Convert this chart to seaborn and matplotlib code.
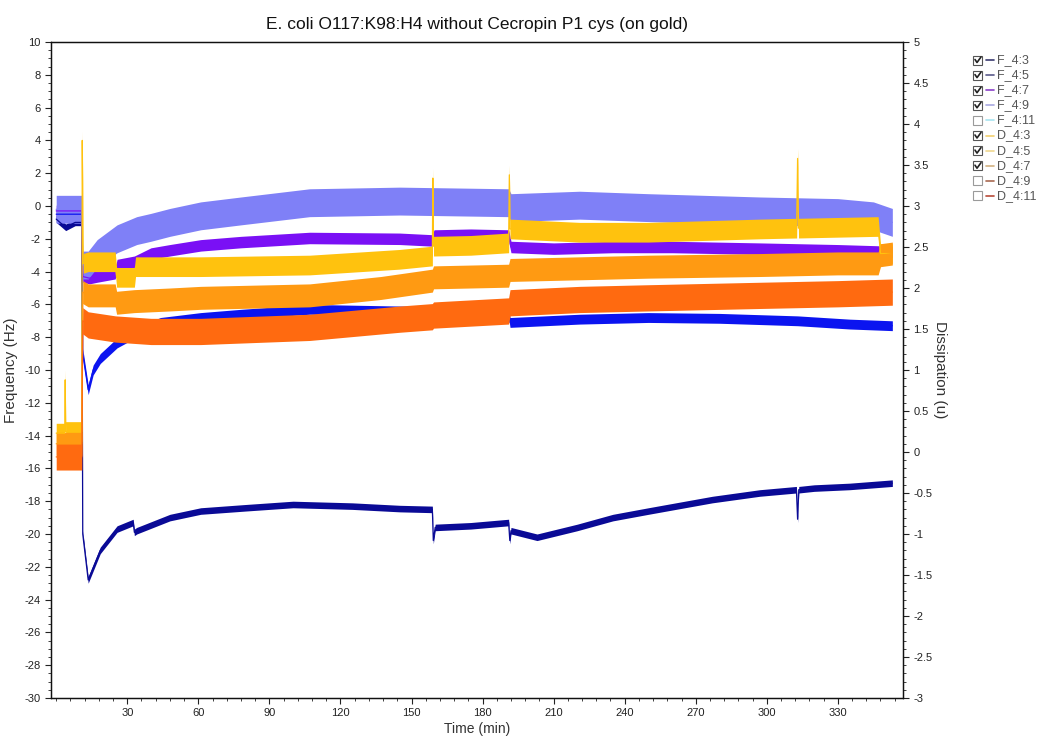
import numpy as np
import pandas as pd
import matplotlib
matplotlib.use("Agg")
import matplotlib.pyplot as plt
from matplotlib.ticker import MultipleLocator, FixedLocator, FuncFormatter
from matplotlib.lines import Line2D
from matplotlib.patches import Rectangle
import seaborn as sns

TITLE = "E. coli O117:K98:H4 without Cecropin P1 cys (on gold)"

# ---- Frequency shift (Hz) per overtone: time (min) / centre value ----
f43_t = [0, 4, 8, 10.8, 11.2, 13.5, 18.6, 25.7, 32.5, 33.0, 34, 48, 61, 80, 100, 125, 145,
         158.8, 159.2, 160, 175, 191, 191.5, 192, 203, 220, 235, 250, 277, 297,
         312.5, 313, 313.5, 320, 335, 353]
f43_v = [-0.8, -1.3, -1.0, -1.0, -20.0, -22.8, -21.0, -19.7, -19.3, -19.9, -19.8, -19.0, -18.6,
         -18.4, -18.2, -18.3, -18.45, -18.5, -20.4, -19.6, -19.5, -19.3, -20.4, -19.8,
         -20.2, -19.6, -19.0, -18.6, -17.9, -17.5, -17.3, -19.1, -17.3, -17.2, -17.1, -16.9]

f45_t = [0, 10.8, 11.2, 13.5, 15.6, 18.6, 25.7, 34, 44, 61, 78, 107, 145, 191, 191.6,
         221, 250, 280, 313, 335, 353]
f45_v = [-0.5, -0.5, -9.0, -11.2, -10.0, -9.3, -8.35, -7.7, -7.1, -6.8, -6.6, -6.3, -6.4,
         -6.5, -7.1, -6.9, -6.8, -6.85, -7.0, -7.2, -7.3]

f47_t = [0, 10.8, 11.2, 14, 17.3, 24.9, 25.7, 33, 40, 48, 61, 78, 107, 145, 158.8, 159.5,
         175, 191, 192, 210, 235, 260, 297, 330, 353]
f47_v = [-0.3, -0.3, -4.3, -4.4, -4.3, -4.1, -3.6, -3.4, -2.9, -2.7, -2.4, -2.2, -1.95,
         -2.0, -2.1, -1.8, -1.75, -1.8, -2.5, -2.6, -2.5, -2.5, -2.6, -2.7, -2.8]

f49_t = [0, 10.8, 11.2, 13.5, 17.3, 25.7, 34, 40, 48, 61, 78, 107, 145, 191, 192, 221,
         250, 297, 330, 345, 353]
f49_v = [-0.2, -0.2, -3.6, -3.6, -2.9, -2.0, -1.5, -1.3, -1.0, -0.6, -0.3, 0.2, 0.3,
         0.2, -0.1, 0.05, -0.1, -0.3, -0.4, -0.6, -1.0]

# ---- Dissipation shift (1e-6) per overtone ----
d43_t = [0, 3.6, 3.8, 4.0, 10.8, 11.0, 11.4, 13.5, 24.9, 25.5, 33, 33.5, 48, 61, 107, 145,
         158.8, 159.0, 159.3, 175, 191, 191.3, 191.6, 221, 250, 297, 312.6, 313, 313.4,
         330, 347, 348, 353]
d43_v = [0.23, 0.23, 0.88, 0.25, 0.25, 3.8, 2.3, 2.32, 2.32, 2.13, 2.13, 2.26, 2.26, 2.26,
         2.28, 2.35, 2.39, 3.34, 2.51, 2.52, 2.55, 3.38, 2.72, 2.68, 2.68, 2.72, 2.73,
         3.58, 2.73, 2.74, 2.75, 2.42, 2.42]

d45_t = [0, 10.8, 11.2, 13.5, 24.9, 25.5, 33, 48, 61, 107, 137, 158.8, 159.3, 191, 191.6,
         221, 250, 297, 330, 347, 348, 353]
d45_v = [0.1, 0.1, 1.95, 1.91, 1.91, 1.82, 1.84, 1.86, 1.88, 1.91, 2.0, 2.09, 2.13, 2.15,
         2.22, 2.24, 2.26, 2.28, 2.3, 2.3, 2.4, 2.42]

d47_t = [0, 10.8, 11.2, 13.5, 25, 40, 61, 107, 145, 158.8, 159.3, 191, 191.6, 221, 250,
         297, 330, 353]
d47_v = [-0.06, -0.06, 1.6, 1.55, 1.50, 1.47, 1.47, 1.52, 1.62, 1.65, 1.67, 1.72, 1.82,
         1.86, 1.88, 1.91, 1.93, 1.95]

# noise half-widths of each trace
f_spread = {"F_4:3": 0.2, "F_4:5": 0.3, "F_4:7": 0.35, "F_4:9": 0.85}
d_spread = {"D_4:3": 0.12, "D_4:5": 0.14, "D_4:7": 0.16}

f_colors = {"F_4:3": "#0a0a96", "F_4:5": "#0b14f0", "F_4:7": "#7a10f5", "F_4:9": "#7f80f7"}
d_colors = {"D_4:3": "#ffc20e", "D_4:5": "#ff9a12", "D_4:7": "#ff6a10"}

legend_names = ["F_4:3", "F_4:5", "F_4:7", "F_4:9", "F_4:11",
                "D_4:3", "D_4:5", "D_4:7", "D_4:9", "D_4:11"]
legend_checked = [True, True, True, True, False, True, True, True, False, False]
legend_colors = ["#3a3a70", "#5a5a8a", "#8a40c8", "#a8a8e0", "#a8e4f0",
                 "#f2d070", "#f0d890", "#d2b080", "#a86850", "#b84a38"]

x_major = [30, 60, 90, 120, 150, 180, 210, 240, 270, 300, 330]


def frame(series):
    rows = []
    for name, (t, v) in series.items():
        rows.append(pd.DataFrame({"time": t, "value": v, "channel": name}))
    return pd.concat(rows, ignore_index=True)


f_df = frame({"F_4:3": (f43_t, f43_v), "F_4:5": (f45_t, f45_v),
              "F_4:7": (f47_t, f47_v), "F_4:9": (f49_t, f49_v)})
d_df = frame({"D_4:3": (d43_t, d43_v), "D_4:5": (d45_t, d45_v),
              "D_4:7": (d47_t, d47_v)})

sns.set_theme(style="ticks")
plt.rcParams["font.family"] = ["Liberation Sans Narrow", "Liberation Sans", "DejaVu Sans"]
plt.rcParams["axes.unicode_minus"] = False

fig = plt.figure(figsize=(10.42, 7.44), dpi=100)
ax = fig.add_axes([51 / 1042, 1 - 698 / 744, 852 / 1042, 656 / 744])
ax2 = ax.twinx()


def draw(axis, df, colors, spread):
    for name, color in colors.items():
        sub = df[df["channel"] == name]
        axis.fill_between(sub["time"], sub["value"] - spread[name],
                          sub["value"] + spread[name], color=color, lw=0)
    sns.lineplot(data=df, x="time", y="value", hue="channel", palette=colors,
                 estimator=None, sort=False, lw=0.9, legend=False, ax=axis)


draw(ax, f_df, f_colors, f_spread)
draw(ax2, d_df, d_colors, d_spread)

ax.set_xlim(-2.2, 357.5)
ax.set_ylim(-30, 10)
ax2.set_ylim(-3, 5)

ax.xaxis.set_major_locator(FixedLocator(x_major))
ax.xaxis.set_minor_locator(MultipleLocator(6))
ax.yaxis.set_major_locator(MultipleLocator(2))
ax.yaxis.set_minor_locator(MultipleLocator(0.5))
ax2.yaxis.set_major_locator(MultipleLocator(0.5))
ax2.yaxis.set_minor_locator(MultipleLocator(0.1))
fmt = FuncFormatter(lambda v, p: f"{v:g}")
ax.yaxis.set_major_formatter(fmt)
ax2.yaxis.set_major_formatter(fmt)

for a in (ax, ax2):
    a.tick_params(which="major", direction="out", length=4, width=0.8,
                  labelsize=8, colors="#222222")
    a.tick_params(which="minor", direction="out", length=2, width=0.6, colors="#222222")
    for s in a.spines.values():
        s.set_color("#111111")
        s.set_linewidth(0.9)
    a.set_facecolor("none")
ax.set_facecolor("white")
ax.tick_params(axis="x", pad=3)

ax.set_xlabel("Time (min)", fontsize=10, color="#333333")
ax.xaxis.set_label_coords(0.5, -0.036)
ax.set_ylabel("Frequency (Hz)", fontsize=11, color="#333333")
ax.yaxis.set_label_coords(-0.039, 0.5)
ax2.set_ylabel("")
ax2.set_xlabel("")
ax.set_title(TITLE, fontsize=12.5, color="#111111", pad=9,
             family=["Liberation Sans", "DejaVu Sans"])
fig.text(940 / 1042, 1 - 370 / 744, "Dissipation (u)", rotation=270, fontsize=11,
         color="#333333", ha="center", va="center")

# series selector panel
for i, (name, checked, col) in enumerate(zip(legend_names, legend_checked, legend_colors)):
    py = 60 + i * 15.1
    fy = 1 - py / 744
    box = Rectangle(((973) / 1042, 1 - (py + 4.5) / 744), 9 / 1042, 9 / 744,
                    transform=fig.transFigure, fill=False,
                    edgecolor="#555555" if checked else "#9a9a9a", lw=0.8)
    fig.add_artist(box)
    if checked:
        fig.add_artist(Line2D([975 / 1042, 977 / 1042, 981 / 1042],
                              [1 - (py - 0.5) / 744, 1 - (py + 2.5) / 744, 1 - (py - 3) / 744],
                              transform=fig.transFigure, color="#222222", lw=1.2))
    fig.add_artist(Line2D([986 / 1042, 994 / 1042], [fy, fy], transform=fig.transFigure,
                          color=col, lw=1.2))
    fig.text(997 / 1042, fy, name, fontsize=9, color="#555555", va="center", ha="left")

fig.savefig("out.png", dpi=100, facecolor="white")
